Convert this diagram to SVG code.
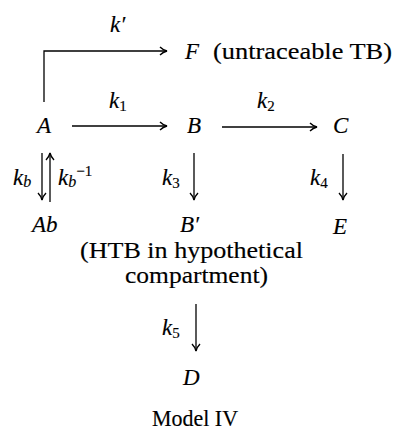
<svg xmlns="http://www.w3.org/2000/svg" width="395" height="437" viewBox="0 0 395 437">
<style>
  text { font-family: "Liberation Serif", "DejaVu Serif", serif; fill: #000; stroke: #000; stroke-width: 0.15; }
  .m { font-style: italic; font-size: 23px; }
  .k { font-style: italic; font-size: 23px; }
  .s { font-style: normal; font-size: 15px; }
  .si { font-style: italic; font-size: 16px; }
  .r { font-size: 23px; }
  .c { fill: none; stroke: #000; stroke-width: 1.3; }
</style>
<defs>
  <marker id="ah" viewBox="0 0 10 10" refX="9" refY="5" markerWidth="10" markerHeight="10" markerUnits="userSpaceOnUse" orient="auto">
    <path d="M2,1 Q5,4 9,5 Q5,6 2,9" fill="none" stroke="#000" stroke-width="1.4"/>
  </marker>
</defs>
<rect width="395" height="437" fill="#fff"/>
<g id="connectors">
  <polyline class="c" points="44,102 44,51 167,51" marker-end="url(#ah)"/>
  <line class="c" x1="72" y1="126" x2="167" y2="126" marker-end="url(#ah)"/>
  <line class="c" x1="222" y1="127" x2="317" y2="127" marker-end="url(#ah)"/>
  <line class="c" x1="42" y1="153" x2="42" y2="200" marker-end="url(#ah)"/>
  <line class="c" x1="50" y1="202" x2="50" y2="153" marker-end="url(#ah)"/>
  <line class="c" x1="194" y1="153" x2="194" y2="200" marker-end="url(#ah)"/>
  <line class="c" x1="343" y1="154" x2="343" y2="200" marker-end="url(#ah)"/>
  <line class="c" x1="196" y1="304" x2="196" y2="351" marker-end="url(#ah)"/>
</g>
<g id="labels">
  <text class="k" x="110" y="32">k′</text>
  <text class="k" x="109" y="108">k<tspan class="s" dy="3">1</tspan></text>
  <text class="k" x="257" y="108">k<tspan class="s" dy="3">2</tspan></text>
  <text class="k" x="13" y="185">k<tspan class="si" dy="2">b</tspan></text>
  <text class="k" x="58" y="185">k<tspan class="si" dy="2">b</tspan><tspan class="s" dy="-11">−1</tspan></text>
  <text class="k" x="162" y="185">k<tspan class="s" dy="3">3</tspan></text>
  <text class="k" x="310" y="185">k<tspan class="s" dy="3">4</tspan></text>
  <text class="k" x="162" y="335">k<tspan class="s" dy="3">5</tspan></text>
</g>
<g id="node-F">
  <text class="m" x="185" y="59">F</text>
  <text class="r" x="213" y="59" textLength="179" lengthAdjust="spacingAndGlyphs">(untraceable TB)</text>
</g>
<g id="node-A"><text class="m" x="37" y="133">A</text></g>
<g id="node-B"><text class="m" x="187" y="133">B</text></g>
<g id="node-C"><text class="m" x="333" y="133">C</text></g>
<g id="node-Ab"><text class="m" x="32" y="232">Ab</text></g>
<g id="node-Bprime">
  <text class="m" x="180" y="232">B′</text>
  <text class="r" x="80" y="258" textLength="223" lengthAdjust="spacingAndGlyphs">(HTB in hypothetical</text>
  <text class="r" x="125" y="283" textLength="143" lengthAdjust="spacingAndGlyphs">compartment)</text>
</g>
<g id="node-E"><text class="m" x="333" y="234">E</text></g>
<g id="node-D"><text class="m" x="183" y="385">D</text></g>
<g id="caption"><text class="r" x="152" y="426" textLength="86" lengthAdjust="spacingAndGlyphs">Model IV</text></g>
</svg>
